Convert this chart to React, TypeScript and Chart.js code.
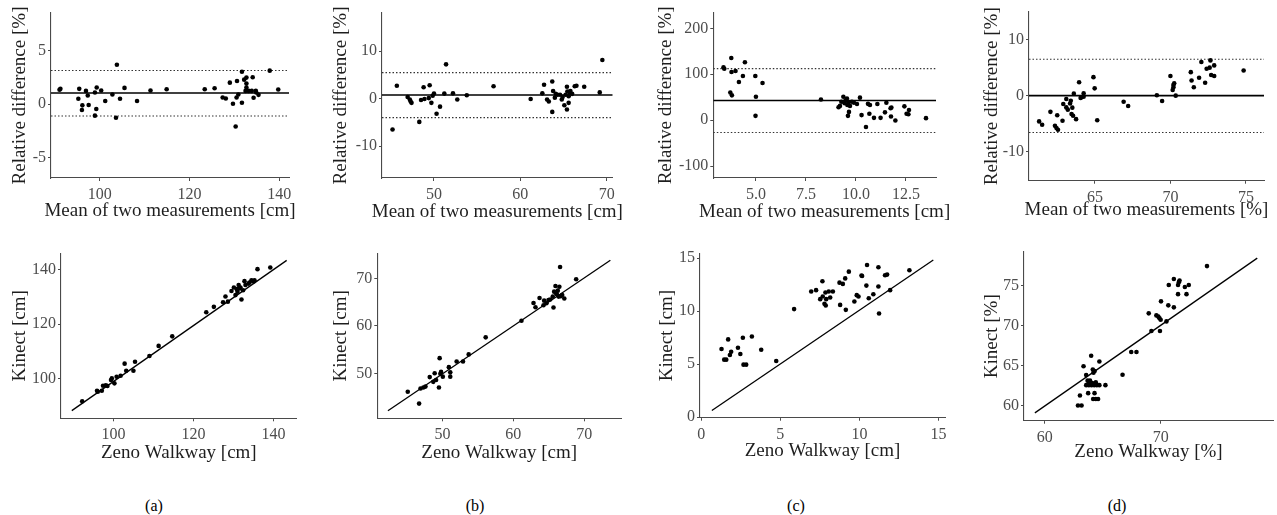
import React, { useEffect, useRef } from 'react';
import { Chart, registerables } from 'chart.js';
Chart.register(...registerables);

const SERIF = '"Liberation Serif", "Times New Roman", serif';
const TICK_SIZE = 16;
const TITLE_SIZE = 19;

// ---------- (a) Bland-Altman ----------
const aMean = [91.0, 91.2, 95.2, 95.4, 96.0, 96.1, 96.9, 97.3, 97.5, 98.9, 98.9, 99.2, 99.3, 100.3, 101.2, 102.8, 103.6, 103.8, 104.5, 105.5, 108.3, 111.3, 114.9, 123.4, 125.6, 127.4, 128.1, 129.0, 129.7, 130.3, 130.6, 130.5, 130.9, 131.7, 131.7, 132.2, 132.5, 132.7, 132.7, 132.7, 133.2, 133.9, 134.1, 134.3, 134.8, 134.9, 135.4, 137.9, 139.8];
const aDiff = [1.33, 1.42, 0.49, 1.42, -0.56, -0.12, 1.23, 0.8, -0.09, -1.08, 1.08, -0.46, 1.54, 1.27, 0.28, 0.9, -1.27, 3.67, 0.49, 1.51, 0.28, 1.27, 1.39, 1.39, 1.48, 0.62, 0.52, 2.0, 0.03, -2.1, 2.16, 0.62, 0.9, 3.02, 0.12, 2.28, 1.23, 2.47, 1.91, 1.54, 1.23, 1.23, 2.5, 0.59, 1.23, 1.08, 0.86, 3.12, 1.36];
// ---------- (b) Bland-Altman ----------
const bMean = [45.2, 45.7, 46.95, 47.2, 47.3, 47.4, 48.3, 48.5, 48.8, 48.9, 49.4, 49.5, 49.7, 49.85, 50.0, 50.3, 50.7, 51.2, 51.4, 52.2, 52.7, 53.8, 56.9, 61.2, 62.55, 62.75, 63.1, 63.3, 63.7, 63.7, 63.8, 64.0, 64.1, 64.3, 64.6, 64.8, 64.9, 65.1, 65.25, 65.4, 65.4, 65.45, 65.6, 65.6, 65.75, 65.8, 66.0, 66.3, 66.5, 67.4, 69.2, 69.5];
const bDiff = [-6.5, 2.7, 0.35, -0.2, -0.6, -0.9, -4.9, -0.3, 2.4, -0.1, 0.1, 2.8, -0.9, 0.6, 1.05, -3.2, -1.7, 1.05, 7.2, 1.1, -0.2, 0.7, 2.6, -0.1, 1.1, 2.9, -0.2, -0.6, -2.8, 3.6, 1.6, 0.2, 1.0, 0.8, 0.8, -0.2, 0.35, -1.4, 0.8, -2.3, 2.5, 1.5, -0.9, 0.5, 1.2, 1.6, 1.0, 2.6, 2.7, 2.5, 1.3, 8.1];
// ---------- (c) Bland-Altman ----------
const cMean = [3.38, 3.42, 3.77, 3.78, 3.72, 3.8, 3.98, 4.15, 4.35, 4.45, 4.97, 5.0, 4.98, 5.33, 8.25, 9.13, 9.2, 9.27, 9.37, 9.43, 9.48, 9.55, 9.57, 9.63, 9.6, 9.65, 9.7, 9.8, 9.9, 10.05, 10.2, 10.28, 10.5, 10.6, 10.67, 10.7, 10.9, 11.07, 11.23, 11.45, 11.52, 11.73, 11.75, 11.77, 11.97, 12.42, 12.53, 12.62, 12.65, 13.5];
const cDiff = [115, 112, 135.5, 105, 60, 54, 107, 83, 96, 126, 96, 51, 9.4, 81, 45, 28, 31, 40, 51, 37, 43, 47, 33, 39, 9.4, 18, 31, 40, 38, 35, 49, 11, -15, 35.5, 14, 33, 5, 35, 5, 17, 38, 26, 8, 27.5, -0.7, 30, 14, 13, 22, 4.3];
// ---------- (d) Bland-Altman ----------
const dMean = [61.3, 61.5, 62.05, 62.35, 62.45, 62.5, 62.55, 62.85, 62.9, 63.1, 63.1, 63.2, 63.35, 63.4, 63.45, 63.5, 63.55, 63.6, 63.75, 63.95, 64.05, 64.1, 64.25, 64.25, 64.9, 64.98, 65.15, 66.9, 67.2, 69.1, 69.45, 70.0, 70.15, 70.2, 70.25, 70.2, 70.35, 71.35, 71.4, 71.55, 71.9, 72.05, 72.3, 72.4, 72.6, 72.65, 72.7, 72.9, 72.9, 74.85];
const dDiff = [-4.6, -5.2, -2.9, -5.4, -5.8, -3.5, -6.1, -4.5, -1.5, -0.6, -2.1, -2.5, -1.4, -0.9, -3.3, -2.15, -3.6, 0.36, -4.2, 2.4, -0.4, -0.3, 0.4, -0.2, 3.3, 1.3, -4.4, -1.1, -1.85, 0.06, -0.95, 3.5, 1.0, 1.9, 2.2, 1.5, 0.0, 4.2, 2.7, 1.5, 3.2, 6.0, 2.3, 4.8, 5.0, 6.3, 3.7, 5.4, 3.5, 4.5];

// Bias and limits of agreement for (a)..(d)
const biasLine = [1.03, 0.77, 42.8, 0.0];
const upperLoA = [3.13, 5.47, 112.3, 6.5];
const lowerLoA = [-1.12, -4.0, -26.8, -6.6];

// ---------- (a) Kinect vs Zeno ----------
const aZeno = [92.2, 95.9, 96.1, 97.1, 97.4, 98.1, 98.5, 99.4, 99.6, 100.25, 100.8, 101.8, 102.8, 103.2, 105.0, 105.4, 109.0, 111.3, 114.7, 123.2, 125.1, 127.4, 128.0, 128.6, 129.5, 130.1, 130.5, 131.0, 131.3, 131.75, 132.0, 132.4, 132.75, 133.0, 133.75, 134.5, 135.25, 136.0, 139.2, 130.8, 131.5, 134.0, 135.0];
const aKinect = [91.7, 95.6, 95.2, 95.6, 97.4, 97.6, 97.3, 99.5, 100.1, 98.3, 100.7, 101.1, 105.5, 102.9, 102.9, 106.2, 108.3, 112.0, 115.5, 124.3, 126.3, 128.0, 130.1, 128.2, 132.1, 133.4, 130.6, 131.8, 134.3, 133.4, 129.0, 132.4, 135.7, 134.3, 134.8, 136.0, 136.0, 140.1, 140.7, 132.8, 133.0, 135.2, 135.6];
// ---------- (b) Kinect vs Zeno ----------
const bZeno = [45.1, 46.7, 46.9, 47.3, 47.6, 48.2, 48.7, 48.9, 49.1, 49.5, 49.6, 49.7, 49.8, 50.05, 50.9, 51.1, 51.1, 52.0, 52.9, 53.7, 56.1, 61.15, 62.85, 63.13, 63.7, 64.35, 64.26, 64.68, 64.96, 65.2, 65.57, 65.67, 65.76, 65.95, 66.14, 66.28, 66.5, 66.6, 66.7, 66.9, 67.2, 66.05, 66.4, 68.87];
const bKinect = [46.1, 43.6, 46.8, 47.0, 47.2, 49.2, 48.2, 50.0, 48.6, 47.0, 53.2, 49.9, 50.3, 49.3, 51.3, 50.2, 49.3, 52.5, 52.5, 54.0, 57.6, 61.1, 64.86, 63.94, 65.9, 65.35, 64.37, 64.8, 65.5, 65.6, 66.2, 63.9, 67.25, 68.45, 66.7, 67.46, 68.3, 72.46, 66.3, 66.55, 65.8, 66.9, 66.2, 69.86];
// ---------- (c) Kinect vs Zeno ----------
const cZeno = [1.28, 1.45, 1.58, 1.7, 1.81, 1.89, 2.32, 2.47, 2.63, 2.67, 2.84, 3.2, 3.79, 4.74, 5.87, 6.95, 7.26, 7.52, 7.66, 7.68, 7.79, 7.85, 7.87, 7.9, 8.06, 8.15, 8.32, 8.74, 8.78, 8.95, 9.1, 9.14, 9.33, 9.68, 9.83, 9.94, 10.13, 10.17, 10.44, 10.48, 10.59, 10.88, 11.2, 11.2, 11.24, 11.62, 11.75, 11.94, 13.16];
const cKinect = [6.43, 5.43, 5.43, 7.34, 5.87, 6.18, 6.56, 5.96, 7.5, 4.96, 4.96, 7.62, 6.37, 5.3, 10.2, 11.86, 11.99, 11.14, 12.83, 11.39, 10.7, 11.77, 10.54, 11.14, 11.86, 11.3, 11.86, 12.7, 10.6, 12.58, 13.1, 10.13, 13.74, 10.92, 11.52, 11.39, 13.37, 13.33, 12.42, 14.37, 11.23, 11.61, 12.33, 14.15, 9.79, 13.4, 13.46, 11.99, 13.87];
// ---------- (d) Kinect vs Zeno ----------
const dZeno = [62.86, 63.17, 63.03, 63.34, 63.57, 63.69, 63.8, 64.0, 64.14, 64.2, 64.3, 63.9, 64.09, 64.4, 63.57, 63.8, 64.03, 64.26, 64.49, 64.71, 65.23, 63.74, 64.29, 64.17, 64.4, 64.6, 64.71, 66.71, 67.46, 67.91, 68.97, 69.2, 70.03, 69.63, 69.8, 69.9, 70.0, 69.94, 70.5, 70.66, 70.7, 71.14, 71.14, 71.5, 71.5, 71.57, 71.63, 72.09, 72.23, 72.43, 74.0];
const dKinect = [60.0, 60.0, 61.25, 64.9, 63.8, 63.1, 62.75, 66.2, 64.5, 64.1, 64.3, 63.1, 62.8, 62.9, 62.54, 62.54, 62.54, 62.54, 62.54, 62.54, 62.54, 61.54, 61.54, 60.8, 60.8, 60.8, 65.5, 63.83, 66.67, 66.67, 71.5, 69.3, 73.0, 71.25, 71.1, 70.9, 70.7, 69.3, 70.5, 72.5, 75.04, 75.8, 72.25, 73.9, 75.04, 75.4, 75.6, 74.8, 73.9, 75.04, 77.4];

// Fitted reference line end points for (a)..(d)
const fitLineX = [[89.6, 143.3], [42.3, 73.7], [0.67, 14.67], [59.14, 78.34]];
const fitLineY = [[88.3, 143.3], [42.1, 73.9], [0.63, 14.84], [59.08, 78.4]];

// Tick labels
const aBaXTicks = [100, 120, 140], aBaYTicks = [-5, 0, 5];
const bBaXTicks = [50, 60, 70], bBaYTicks = [-10, 0, 10];
const cBaXTicks = [5, 7.5, 10, 12.5], cBaYTicks = [-100, 0, 100, 200];
const dBaXTicks = [65, 70, 75], dBaYTicks = [-10, 0, 10];
const aScXTicks = [100, 120, 140], aScYTicks = [100, 120, 140];
const bScXTicks = [50, 60, 70], bScYTicks = [50, 60, 70];
const cScXTicks = [0, 5, 10, 15], cScYTicks = [0, 5, 10, 15];
const dScXTicks = [60, 70], dScYTicks = [60, 65, 70, 75];

const panelLetters = ['(a)', '(b)', '(c)', '(d)'];

const BA_X_CM = 'Mean of two measurements [cm]';
const BA_X_PCT = 'Mean of two measurements [%]';
const BA_Y = 'Relative difference [%]';
const SC_X_CM = 'Zeno Walkway [cm]';
const SC_X_PCT = 'Zeno Walkway [%]';
const SC_Y_CM = 'Kinect [cm]';
const SC_Y_PCT = 'Kinect [%]';

type P = any;

const panels: P[] = [
  { kind: 'ba', idx: 0, x0: 0, y0: 0, w: 320, h: 235, L: 51, R: 289, T: 13, B: 178, xMin: 89.1, xMax: 142.2, yMin: -6.9, yMax: 8.5, xt: aBaXTicks, yt: aBaYTicks, xTitle: BA_X_CM, yTitle: BA_Y, xcy: 211, ycx: 20, xs: aMean, ys: aDiff },
  { kind: 'ba', idx: 1, x0: 320, y0: 0, w: 320, h: 235, L: 382, R: 612.7, T: 13, B: 178, xMin: 43.98, xMax: 70.7, yMin: -16.7, yMax: 18.0, xt: bBaXTicks, yt: bBaYTicks, xTitle: BA_X_CM, yTitle: BA_Y, xcy: 212.5, ycx: 341.5, xs: bMean, ys: bDiff },
  { kind: 'ba', idx: 2, x0: 640, y0: 0, w: 320, h: 235, L: 713.3, R: 936, T: 12.7, B: 178, xMin: 2.87, xMax: 14.0, yMin: -126, yMax: 234, xt: cBaXTicks, yt: cBaYTicks, xTitle: BA_X_CM, yTitle: BA_Y, xcy: 212, ycx: 666.5, xs: cMean, ys: cDiff, xDec: 1 },
  { kind: 'ba', idx: 3, x0: 960, y0: 0, w: 317, h: 235, L: 1029, R: 1264, T: 11.7, B: 180.7, xMin: 60.63, xMax: 76.2, yMin: -15.2, yMax: 15.0, xt: dBaXTicks, yt: dBaYTicks, xTitle: BA_X_PCT, yTitle: BA_Y, xcy: 210, ycx: 992, xs: dMean, ys: dDiff },
  { kind: 'sc', idx: 0, x0: 0, y0: 235, w: 320, h: 240, L: 61, R: 296.7, T: 253.3, B: 418.3, xMin: 86.9, xMax: 145.8, yMin: 85.5, yMax: 145.9, xt: aScXTicks, yt: aScYTicks, xTitle: SC_X_CM, yTitle: SC_Y_CM, xcy: 452.7, ycx: 20, xs: aZeno, ys: aKinect },
  { kind: 'sc', idx: 1, x0: 320, y0: 235, w: 320, h: 240, L: 377.3, R: 621, T: 253.3, B: 418.3, xMin: 40.8, xMax: 75.2, yMin: 40.5, yMax: 75.35, xt: bScXTicks, yt: bScYTicks, xTitle: SC_X_CM, yTitle: SC_Y_CM, xcy: 453.3, ycx: 340.7, xs: bZeno, ys: bKinect },
  { kind: 'sc', idx: 2, x0: 640, y0: 235, w: 320, h: 240, L: 700, R: 945, T: 253.3, B: 417.7, xMin: -0.08, xMax: 15.41, yMin: -0.05, yMax: 15.47, xt: cScXTicks, yt: cScYTicks, xTitle: SC_X_CM, yTitle: SC_Y_CM, xcy: 450.7, ycx: 666.7, xs: cZeno, ys: cKinect },
  { kind: 'sc', idx: 3, x0: 960, y0: 235, w: 317, h: 240, L: 1024, R: 1275, T: 251.7, B: 420.7, xMin: 58.2, xMax: 79.7, yMin: 58.1, yMax: 79.2, xt: dScXTicks, yt: dScYTicks, xTitle: SC_X_PCT, yTitle: SC_Y_PCT, xcy: 451.7, ycx: 991.7, xs: dZeno, ys: dKinect },
];

const AXIS_COLOR = '#4a4a4a';
const TICK_COLOR = '#4d4d4d';
const TITLE_COLOR = '#1e1e1e';

// Draws the axis titles without Chart.js's max-width squeezing
const axisTitlePlugin = {
  id: 'axisTitles',
  afterDraw(chart: any, _args: any, opts: any) {
    const { ctx, chartArea } = chart;
    ctx.save();
    ctx.fillStyle = TITLE_COLOR;
    ctx.font = `${TITLE_SIZE}px ${SERIF}`;
    ctx.textAlign = 'center';
    ctx.textBaseline = 'middle';
    ctx.fillText(opts.xText, (chartArea.left + chartArea.right) / 2, opts.xY);
    ctx.translate(opts.yX, (chartArea.top + chartArea.bottom) / 2);
    ctx.rotate(-Math.PI / 2);
    ctx.fillText(opts.yText, 0, 0);
    ctx.restore();
  },
};

function Panel({ p }: { p: P }) {
  const ref = useRef<HTMLCanvasElement>(null);
  useEffect(() => {
    const yw = p.L - p.x0;
    const xh = p.y0 + p.h - p.B;
    const padTop = p.T - p.y0;
    const padRight = p.x0 + p.w - p.R;

    const datasets: any[] = [];
    datasets.push({
      data: p.xs.map((x: number, i: number) => ({ x, y: p.ys[i] })),
      pointRadius: 2.3,
      pointBackgroundColor: '#000',
      pointBorderWidth: 0,
      showLine: false,
    });
    if (p.kind === 'ba') {
      const hl = (v: number, dash: number[], width: number, color: string) => ({
        data: [{ x: p.xMin, y: v }, { x: p.xMax, y: v }],
        showLine: true,
        borderColor: color,
        borderWidth: width,
        borderDash: dash,
        pointRadius: 0,
      });
      datasets.push(hl(biasLine[p.idx], [], 1.6, '#000'));
      datasets.push(hl(upperLoA[p.idx], [1.5, 2], 1.1, '#333'));
      datasets.push(hl(lowerLoA[p.idx], [1.5, 2], 1.1, '#333'));
    } else {
      const lx = fitLineX[p.idx], ly = fitLineY[p.idx];
      datasets.push({
        data: lx.map((x: number, i: number) => ({ x, y: ly[i] })),
        showLine: true,
        borderColor: '#000',
        borderWidth: 1.3,
        pointRadius: 0,
      });
    }

    const tickFont = { family: SERIF, size: TICK_SIZE };
    const grid = { display: true, drawOnChartArea: false, drawTicks: true, tickLength: 3, color: AXIS_COLOR, lineWidth: 1 };
    const border = { display: true, color: AXIS_COLOR, width: 1.1 };

    const chart = new Chart(ref.current as HTMLCanvasElement, {
      type: 'scatter',
      data: { datasets },
      plugins: [axisTitlePlugin],
      options: {
        animation: false,
        responsive: false,
        devicePixelRatio: 1,
        events: [],
        layout: { padding: { top: padTop, right: padRight, left: 0, bottom: 0 } },
        plugins: {
          legend: { display: false },
          tooltip: { enabled: false },
          axisTitles: { xText: p.xTitle, yText: p.yTitle, xY: p.xcy - p.y0, yX: p.ycx - p.x0 },
        },
        scales: {
          x: {
            type: 'linear',
            min: p.xMin,
            max: p.xMax,
            afterBuildTicks: (s: any) => { s.ticks = p.xt.map((v: number) => ({ value: v })); },
            afterFit: (s: any) => { s.height = xh; },
            grid,
            border,
            ticks: {
              font: tickFont,
              color: TICK_COLOR,
              padding: 4,
              maxRotation: 0,
              autoSkip: false,
              callback: (v: any) => (p.xDec ? Number(v).toFixed(p.xDec) : String(v)),
            },
            title: { display: false },
          },
          y: {
            type: 'linear',
            min: p.yMin,
            max: p.yMax,
            afterBuildTicks: (s: any) => { s.ticks = p.yt.map((v: number) => ({ value: v })); },
            afterFit: (s: any) => { s.width = yw; },
            grid,
            border,
            ticks: {
              font: tickFont,
              color: TICK_COLOR,
              padding: 2,
              autoSkip: false,
              callback: (v: any) => String(v),
            },
            title: { display: false },
          },
        },
      } as any,
    });
    return () => chart.destroy();
  }, []);
  return (
    <canvas
      ref={ref}
      width={p.w}
      height={p.h}
      style={{ position: 'absolute', left: p.x0, top: p.y0, width: p.w, height: p.h }}
    />
  );
}

const letterX = [154, 475, 796, 1117];

export default function App() {
  return (
    <div style={{ position: 'absolute', left: 0, top: 0, width: 1277, height: 515, background: '#fff', overflow: 'hidden' }}>
      {panels.map((p, i) => <Panel key={i} p={p} />)}
      {panelLetters.map((t, i) => (
        <div
          key={t}
          style={{
            position: 'absolute',
            left: letterX[i] - 30,
            width: 60,
            top: 496,
            textAlign: 'center',
            fontFamily: SERIF,
            fontSize: 16,
            lineHeight: '20px',
            color: '#000',
          }}
        >
          {t}
        </div>
      ))}
    </div>
  );
}
